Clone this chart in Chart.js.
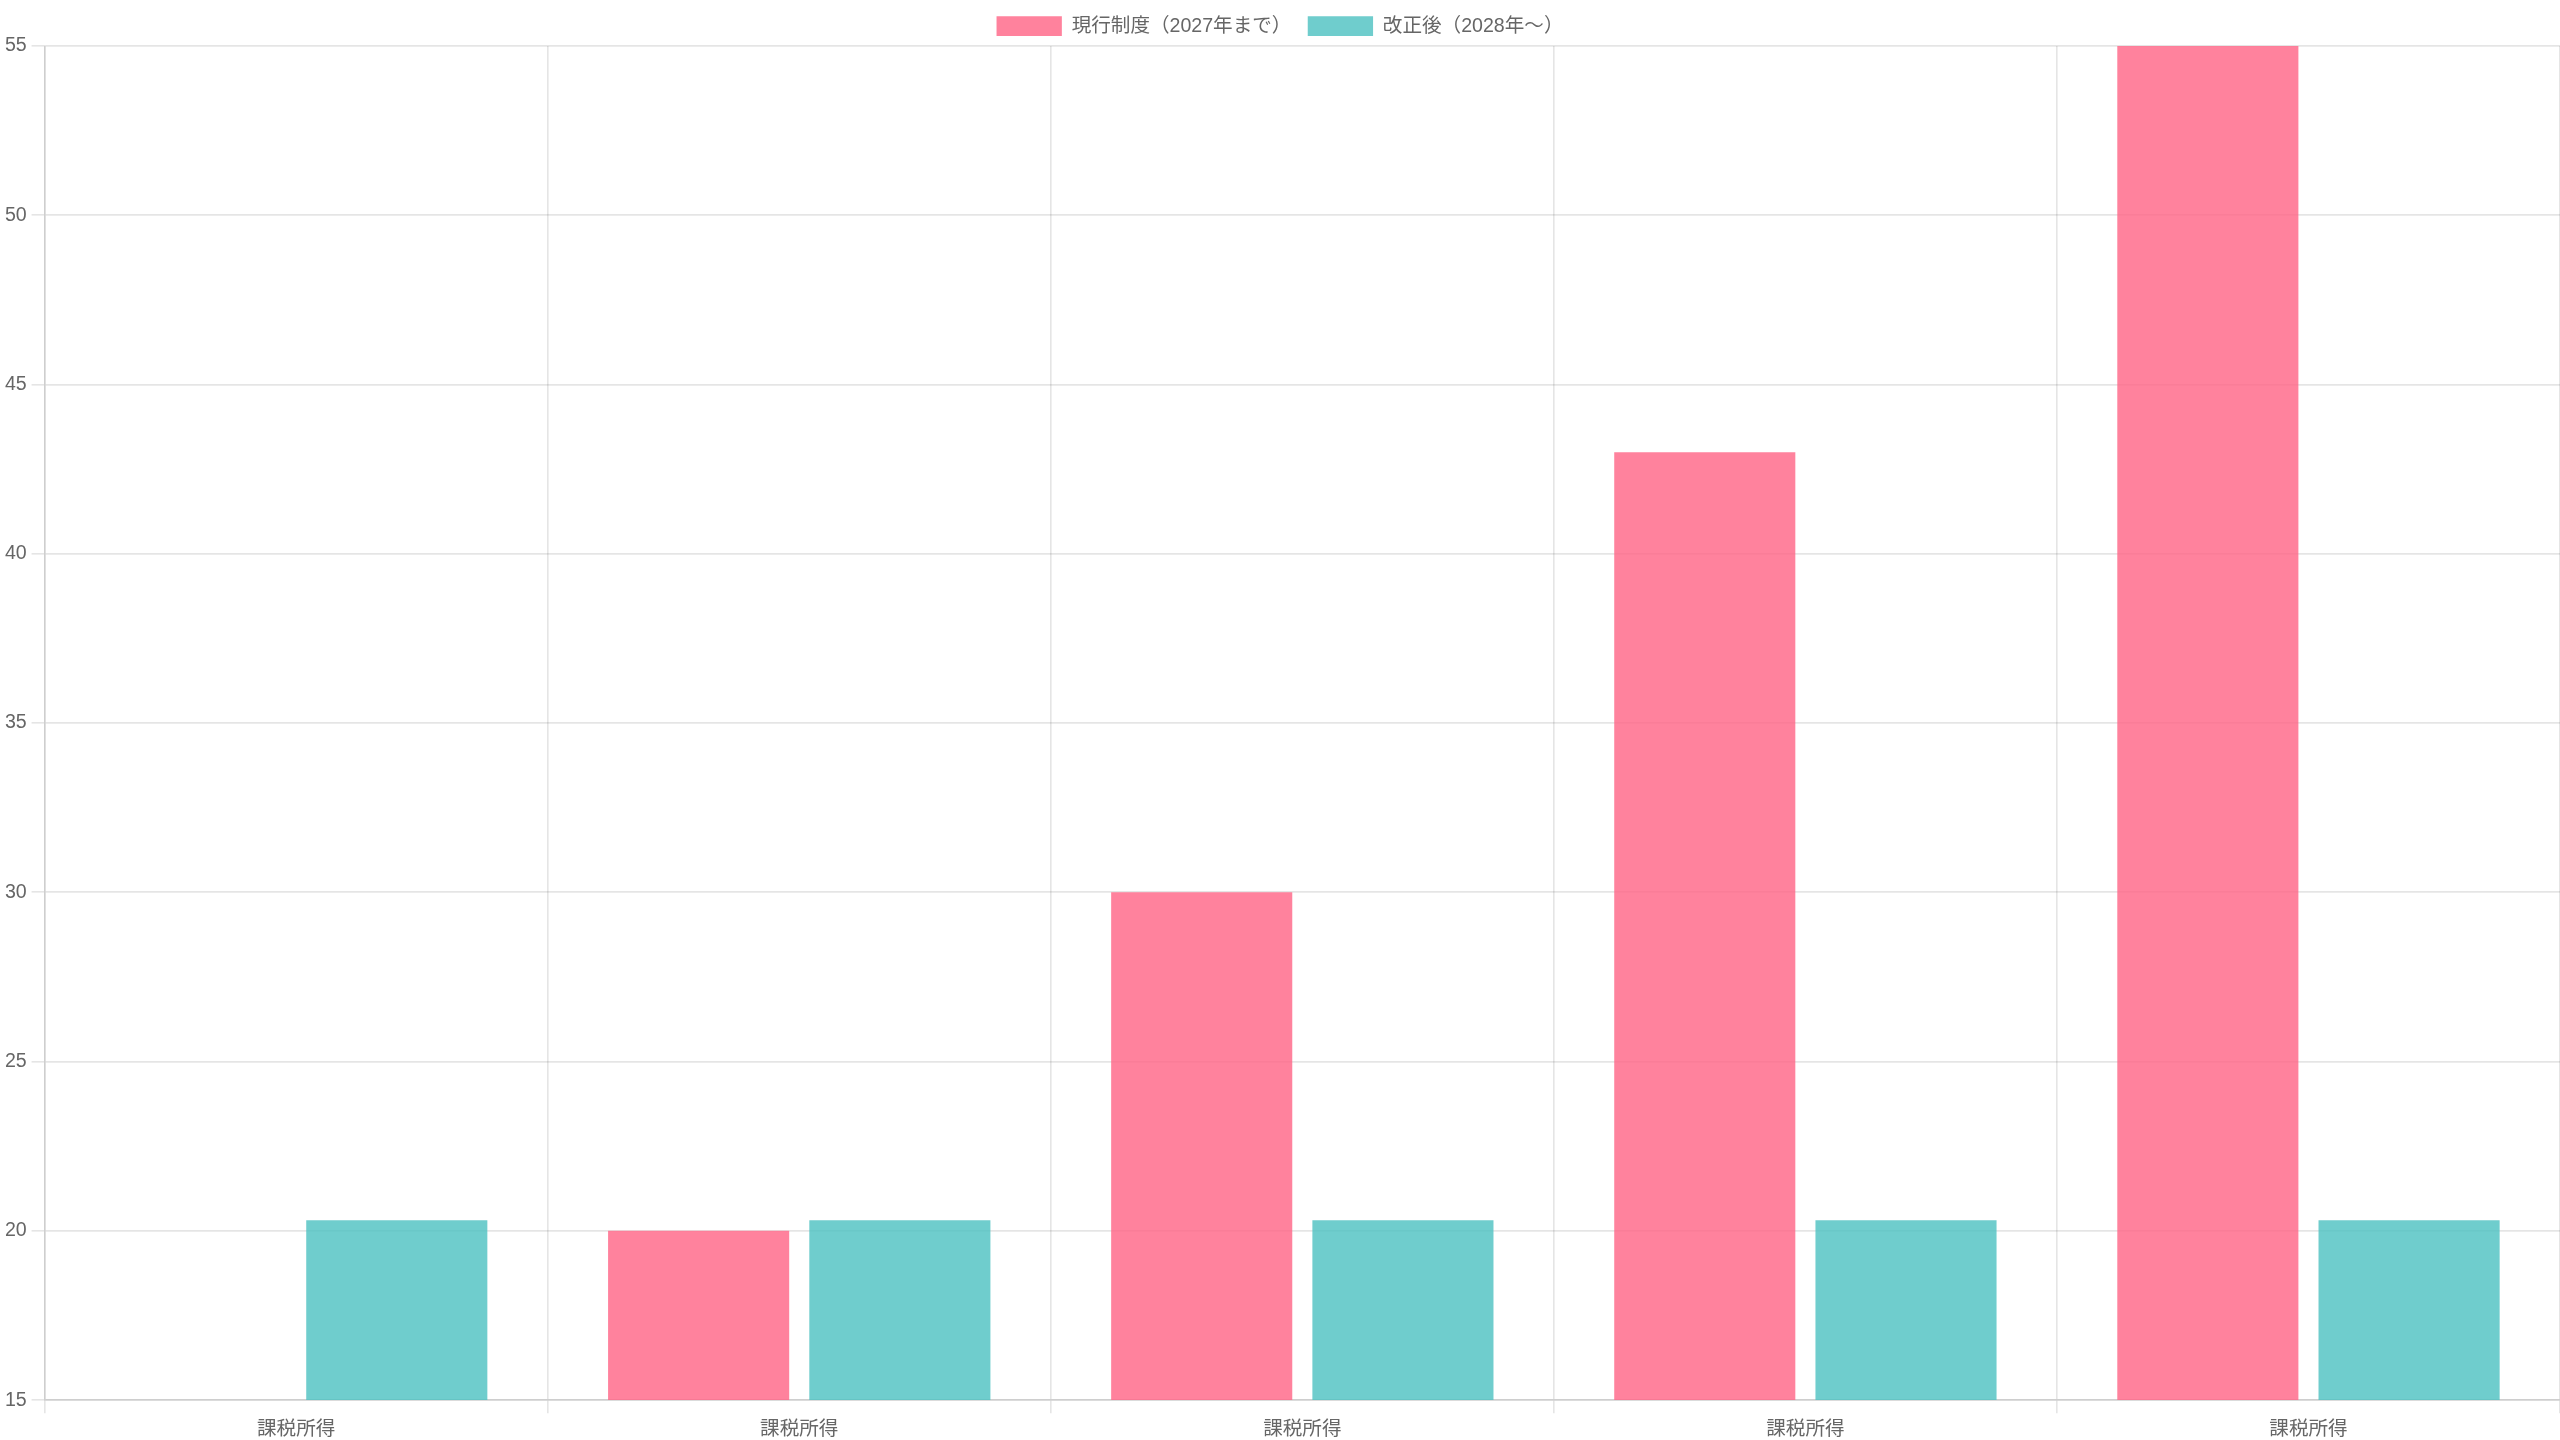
<!DOCTYPE html>
<html>
<head>
<meta charset="utf-8">
<script src="https://cdn.jsdelivr.net/npm/chart.js@4"></script>
<style>
  html, body { margin: 0; padding: 0; overflow: hidden; background: #fff; }
  #wrap { width: 2560px; height: 1470px; }
</style>
</head>
<body>
<div id="wrap"><canvas id="chart"></canvas></div>
<script>
const categories = [
    ['課税所得', '195万以下'],
    ['課税所得', '330万以下'],
    ['課税所得', '695万以下'],
    ['課税所得', '1800万以下'],
    ['課税所得', '4000万超']
];
const currentRates = [15, 20, 30, 43, 55];
const reformedRates = [20.315, 20.315, 20.315, 20.315, 20.315];

const k = 1.633;
Chart.defaults.font.family = '"Helvetica Neue", Arial, "Noto Sans CJK JP", sans-serif';
Chart.defaults.font.size = 12 * k;

new Chart(document.getElementById('chart').getContext('2d'), {
    type: 'bar',
    data: {
        labels: categories,
        datasets: [
            {
                label: '現行制度（2027年まで）',
                data: currentRates,
                backgroundColor: 'rgba(255, 99, 132, 0.8)'
            },
            {
                label: '改正後（2028年〜）',
                data: reformedRates,
                backgroundColor: 'rgba(75, 192, 192, 0.8)'
            }
        ]
    },
    options: {
        responsive: true,
        maintainAspectRatio: false,
        animation: false,
        plugins: {
            legend: {
                display: true,
                position: 'top',
                labels: { boxWidth: 40 * k, boxHeight: 12 * k, padding: 10 * k }
            }
        },
        scales: {
            x: {
                grid: { lineWidth: k, tickLength: 8 * k },
                border: { width: k },
                ticks: { padding: 3 * k }
            },
            y: {
                min: 15,
                max: 55,
                grid: { lineWidth: k, tickLength: 8 * k },
                border: { width: k },
                ticks: { stepSize: 5, padding: 3 * k }
            }
        }
    }
});
</script>
</body>
</html>
